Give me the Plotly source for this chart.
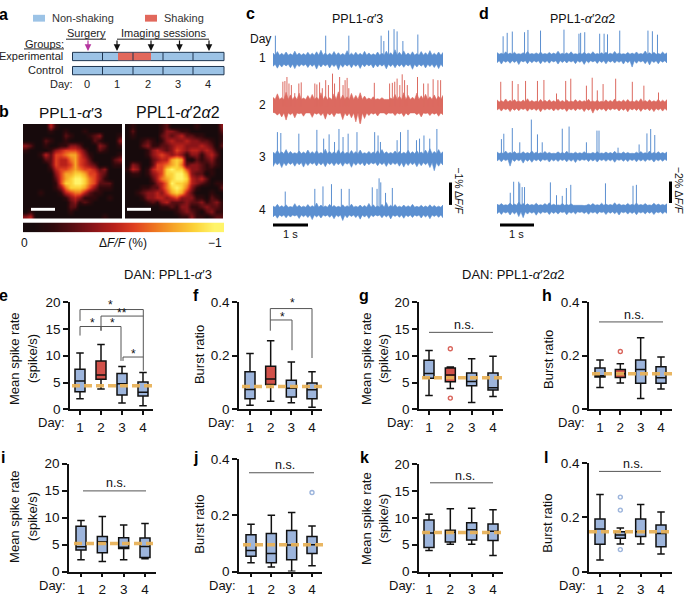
import plotly.graph_objects as go

W, H = 685, 600
FONT = "Liberation Sans"
BLUE_FILL, RED_FILL = "#9db5dc", "#d2514a"
TR_BLUE, TR_RED = "#5b8fd0", "#dc6a60"
ORANGE = "rgba(232,178,90,0.95)"

DAYS = [1, 2, 3, 4]

# ---------- box panels: [upper whisker, q3, median, q1, lower whisker] per day
E = [[10.5, 7.5, 5.3, 3.3, 2.0], [12.1, 9.0, 6.4, 5.6, 3.8], [8.0, 6.7, 4.8, 2.7, 1.2], [6.9, 5.1, 3.2, 2.5, 0.7]]
F = [[.208, .14, .074, .04, .015], [.256, .161, .113, .093, .03], [.177, .109, .079, .046, .025], [.14, .098, .073, .04, .008]]
G = [[11.0, 9.15, 6.7, 5.8, 2.6], [7.9, 7.7, 6.4, 5.15, 3.9], [9.45, 6.8, 5.2, 4.4, 1.3], [9.9, 6.8, 4.05, 3.6, 2.4]]
Hh = [[.184, .154, .125, .121, .082], [.17, .149, .133, .119, .098], [.267, .184, .149, .097, .041], [.195, .159, .118, .097, .076]]
I = [[9.46, 8.37, 4.58, 3.98, 2.17], [10.2, 6.5, 5.5, 3.5, 1.87], [8.6, 6.27, 4.5, 4.28, 2.17], [8.9, 6.2, 4.64, 2.6, 2.35]]
J = [[.168, .131, .075, .054, .031], [.2, .135, .064, .031, .016], [.21, .146, .094, .042, .001], [.162, .125, .095, .064, .021]]
K = [[10.7, 9.6, 7.2, 4.5, 3.9], [11.7, 7.7, 7.3, 5.5, 5.1], [11.8, 9.1, 7.8, 5.9, 5.1], [11.5, 8.85, 7.5, 5.8, 3.0]]
L = [[.285, .194, .157, .101, .043], [.161, .147, .135, .123, .102], [.248, .194, .147, .129, .102], [.22, .172, .141, .092, .065]]
MEANS = dict(e=4.4, f=.085, g=5.9, h=.133, i=5.2, j=.095, k=7.3, l=.147)
OUT_G = ([2, 2], [11.3, 2.1])
OUT_H = ([2], [.216])
OUT_J = ([4], [.281])
OUT_L = ([2, 2, 2], [.275, .227, .081])
RATE_TICKS = [0, 5, 10, 15, 20]
BURST_TICKS = [0, 0.2, 0.4]
BURST_LABELS = ["0", "0.2", "0.4"]

# ---------- fluorescence traces: spike time (s), spike height (%), noise envelopes and core half-width (%)
C1_T = [.07, 1.55, 2.23, 3.18, 3.26, 3.40, 3.56, 3.65, 3.82, 4.26]
C1_H = [1.07, 1.07, 1.07, 1.07, .83, 1.30, 1.36, 1.26, .83, 1.12]
C2_T = [.29, .35, .41, .47, .54, .64, .76, .83, 1.23, 1.29, 1.37, 1.45, 1.55, 1.63, 1.75, 1.81, 1.96, 2.06, 2.12, 2.18, 2.23, 2.98, 3.43, 3.51, 3.58, 3.65, 3.73, 3.80, 3.87, 3.95, 4.25, 4.43, 4.56, 4.71, 4.85, 4.93]
C2_H = [1.09, 1.12, 1.30, 1.01, .94, .58, 1.01, 1.06, 1.01, .97, 1.06, .80, 1.16, .94, 1.45, 1.01, 1.30, .94, 1.16, 1.26, .80, 1.04, 1.01, 1.04, 1.09, 1.23, .94, 1.42, 1.16, .94, 1.30, 1.01, 1.01, 1.20, 1.16, 1.16]
C3_T = [.13, .23, .76, 1.29, 1.49, 1.65, 1.81, 1.94, 2.06, 2.21, 2.47, 2.99, 3.09, 3.16, 3.65, 3.75, 3.97, 4.22, 4.31, 4.44, 4.61, 4.82]
C3_H = [1.16, 1.12, 1.09, 1.26, .87, 1.06, .72, 1.30, .94, 1.09, 1.16, 1.16, 1.01, .72, .80, 1.16, 1.26, .80, .87, 1.01, .87, 1.30]
C4_T = [.36, 1.23, 1.47, 1.72, 2.01, 2.24, 2.92, 3.06, 3.12, 3.17, 3.31, 3.51]
C4_H = [.87, .99, 1.10, 1.20, .99, .99, 1.06, .99, 1.46, 1.28, .81, 1.03]
D1_T = [.18, .30, .45, .81, .91, 1.28, 1.97, 2.41, 2.46, 2.58, 3.02, 3.15, 3.25, 3.61, 4.44, 4.57, 4.72]
D1_H = [1.97, 2.29, 2.41, 2.35, 2.56, 2.50, 2.59, 2.21, 2.29, 2.35, 2.21, 2.21, 2.15, 2.50, 2.50, 2.44, 2.12]
D2_T = [.11, .45, .62, .84, 1.19, 1.38, 1.75, 2.02, 2.17, 2.63, 2.80, 2.95, 3.12, 3.49, 3.98, 4.32, 4.75]
D2_H = [2.18, 2.26, 1.97, 2.26, 2.26, 2.35, 1.09, 2.26, 2.47, 1.82, 2.56, 1.38, 1.97, 2.47, 2.18, 1.82, 1.18]
D3_T = [.13, .20, .45, .67, 1.01, 1.19, 1.33, 1.92, 2.12, 2.63, 2.94, 3.00, 3.56, 4.18, 4.41, 4.52, 4.64]
D3_H = [1.62, 2.12, 2.65, 1.32, 3.44, 2.06, 1.32, 2.59, 2.79, 1.32, 2.41, 2.41, .82, 1.12, 2.15, 2.56, 2.0]
D4_T = [.39, .49, .64, .67, .74, .81, 1.57, 1.75, 1.92, 2.04, 2.17, 3.19, 4.0, 4.10]
D4_H = [1.47, 2.50, 2.50, 2.35, 2.0, 2.0, 2.44, 1.24, 1.18, 1.91, 2.21, 2.35, 2.12, 2.21]

C1_U = [.30,.36,.28,.34,.26,.38,.30,.27,.33,.29,.35,.42,.30,.28,.36,.31,.27,.40,.29,.33,.28,.37,.30,.26,.34,.29,.38,.31,.44,.33,.39,.30,.35,.27,.36,.31,.40,.29,.34,.32]
C1_D = [-.30,-.38,-.33,-.28,-.36,-.40,-.31,-.27,-.35,-.30,-.42,-.33,-.28,-.37,-.31,-.45,-.34,-.29,-.36,-.30,-.39,-.32,-.28,-.37,-.33,-.29,-.41,-.31,-.36,-.30,-.34,-.28,-.43,-.33,-.29,-.37,-.31,-.35,-.40,-.32]
C2_U = [.40,.55,.38,.62,.50,.44,.58,.36,.47,.52,.40,.60,.46,.38,.55,.64,.50,.42,.57,.48,.60,.45,.36,.42,.33,.38,.30,.36,.52,.44,.60,.48,.40,.58,.46,.53,.42,.50,.44,.48]
C2_D = [-.28,-.40,-.48,-.62,-.38,-.52,-.34,-.45,-.30,-.50,-.36,-.42,-.58,-.40,-.47,-.33,-.60,-.44,-.52,-.70,-.86,-.55,-.42,-.36,-.44,-.30,-.38,-.32,-.42,-.35,-.46,-.40,-.30,-.38,-.48,-.33,-.42,-.36,-.45,-.38]
C3_U = [.26,.34,.28,.38,.30,.24,.32,.27,.36,.29,.33,.25,.40,.30,.28,.37,.31,.26,.34,.29,.36,.24,.30,.27,.33,.38,.28,.25,.32,.30,.26,.35,.29,.33,.27,.36,.42,.30,.38,.28]
C3_D = [-.38,-.30,-.42,-.34,-.28,-.36,-.30,-.40,-.33,-.27,-.35,-.31,-.38,-.28,-.34,-.30,-.36,-.27,-.41,-.32,-.29,-.35,-.30,-.26,-.34,-.29,-.37,-.31,-.28,-.36,-.40,-.33,-.30,-.38,-.34,-.29,-.42,-.56,-.36,-.31]
C4_U = [.22,.30,.24,.28,.20,.33,.26,.22,.29,.24,.36,.27,.23,.30,.25,.21,.28,.24,.31,.22,.27,.25,.34,.28,.23,.30,.38,.26,.29,.22,.27,.24,.30,.21,.26,.23,.28,.25,.22,.27]
C4_D = [-.26,-.32,-.24,-.30,-.27,-.22,-.33,-.25,-.29,-.38,-.26,-.31,-.23,-.28,-.34,-.25,-.42,-.30,-.24,-.29,-.36,-.27,-.33,-.25,-.22,-.30,-.26,-.35,-.24,-.28,-.32,-.25,-.29,-.23,-.31,-.26,-.34,-.24,-.28,-.30]
D1_U = [.45,.38,.52,.40,.48,.35,.44,.55,.37,.42,.50,.36,.46,.40,.58,.38,.43,.52,.35,.41,.47,.39,.53,.36,.44,.49,.38,.56,.42,.35,.46,.40,.51,.37,.60,.43,.48,.36,.50,.42]
D1_D = [-.50,-.62,-.45,-.55,-.48,-.66,-.42,-.58,-.50,-.44,-.60,-.47,-.54,-.42,-.62,-.48,-.52,-.43,-.58,-.46,-.65,-.50,-.42,-.56,-.48,-.60,-.44,-.53,-.46,-.62,-.50,-.90,-.55,-.43,-.58,-.70,-.48,-.60,-.45,-.52]
D2_U = [.50,.42,.58,.45,.52,.40,.48,.60,.44,.38,.54,.46,.50,.41,.56,.43,.49,.38,.52,.45,.42,.55,.40,.47,.36,.50,.44,.58,.41,.48,.53,.39,.46,.60,.43,.50,.42,.55,.47,.52]
D2_D = [-.45,-.55,-.42,-.60,-.48,-.52,-.40,-.56,-.44,-.50,-.62,-.46,-.42,-.54,-.48,-.40,-.58,-.45,-.52,-.41,-.60,-.47,-.74,-.50,-.43,-.56,-.46,-.40,-.54,-.48,-.62,-.44,-.50,-.58,-.42,-.52,-.60,-.46,-.55,-.48]
D3_U = [.42,.35,.50,.38,.46,.33,.44,.36,.52,.40,.34,.47,.38,.30,.43,.36,.49,.32,.40,.35,.45,.30,.38,.44,.33,.41,.36,.48,.32,.42,.37,.30,.40,.46,.35,.50,.38,.44,.36,.42]
D3_D = [-.42,-.50,-.38,-.90,-.46,-.40,-.62,-.44,-.54,-.40,-.48,-.36,-.52,-.42,-.46,-.38,-.50,-.44,-.56,-.40,-.36,-.48,-.42,-.52,-.38,-.45,-.40,-.54,-.36,-.44,-.48,-.38,-.50,-.42,-.46,-.36,-.52,-.40,-.44,-.38]
D4_U = [.40,.46,.35,.52,.42,.60,.48,.44,.38,.50,.36,.46,.54,.40,.34,.48,.38,.44,.30,.36,.28,.40,.46,.36,.50,.42,.38,.54,.44,.36,.48,.40,.52,.38,.46,.34,.50,.42,.38,.44]
D4_D = [-.48,-.55,-.42,-.60,-.50,-.75,-.85,-.52,-.44,-.62,-.48,-.40,-.56,-.46,-.52,-.38,-.58,-.44,-.50,-.36,-.46,-.54,-.42,-.50,-.38,-.56,-.44,-.48,-.60,-.40,-.52,-.46,-.58,-.42,-.50,-.44,-.56,-.40,-.48,-.44]
CORE_C = [.2, .3, .2, .17]
CORE_D = [.3, .3, .27, .3]

# ---------- images of panel b (0-9 intensity)
IMG_A = [
 [0,0,0,0,0,4,1,0,0,0,0,0,0,0,0,0,0,0,0,0],
 [0,0,0,0,0,1,0,0,1,0,0,0,1,0,0,0,0,0,0,0],
 [0,0,0,0,0,0,0,0,2,1,0,0,0,1,2,3,0,0,0,1],
 [0,0,0,0,2,1,0,0,1,0,0,0,0,0,2,1,0,0,0,3],
 [3,2,0,0,1,0,0,1,1,3,3,2,0,0,0,3,2,0,0,1],
 [1,0,0,0,0,1,3,4,5,5,5,4,2,0,0,2,1,0,0,0],
 [0,0,0,1,4,2,5,5,6,7,7,5,3,1,0,0,0,0,0,1],
 [0,0,0,0,2,2,5,4,4,6,7,5,4,2,0,0,0,0,2,3],
 [0,0,0,0,0,2,5,4,4,5,7,5,4,3,2,0,0,0,1,1],
 [0,0,0,0,0,1,4,5,5,6,7,6,5,5,4,2,3,0,0,0],
 [0,0,0,0,0,0,3,5,7,7,8,8,7,5,5,3,2,0,0,0],
 [0,0,0,0,0,0,2,5,7,8,9,9,8,6,5,3,1,0,0,0],
 [0,0,0,0,0,0,1,5,8,8,9,9,8,6,5,2,2,2,0,0],
 [0,0,0,0,0,0,1,3,6,8,8,8,7,5,3,1,1,1,0,0],
 [0,0,0,1,0,0,0,1,4,5,6,6,4,2,1,1,0,0,0,0],
 [0,0,0,0,0,0,0,0,1,3,4,3,1,1,1,0,0,1,0,0],
 [0,0,0,0,0,0,0,0,0,2,3,1,2,1,0,0,0,0,0,0],
 [0,0,0,0,0,0,0,0,0,2,2,0,0,0,0,0,0,0,0,0],
 [0,1,0,0,0,0,0,0,0,1,0,0,0,0,0,0,0,0,0,0],
 [3,4,0,0,0,0,0,0,0,0,0,0,0,0,0,0,1,0,0,0]]
IMG_B = [
 [0,1,0,0,0,0,0,1,2,0,0,0,0,0,1,0,0,0,0,3],
 [0,2,0,0,0,0,0,1,3,3,2,1,1,0,0,0,0,0,0,2],
 [0,1,0,0,0,0,0,2,3,2,3,4,2,2,1,1,0,0,0,1],
 [0,0,0,1,2,1,0,1,3,4,3,3,4,3,3,2,2,1,0,1],
 [0,0,0,2,3,1,1,2,2,3,4,4,3,3,3,4,3,2,0,2],
 [0,0,0,0,1,3,4,3,2,3,5,4,3,4,4,3,4,3,1,0],
 [0,0,0,0,1,3,4,5,4,3,4,3,1,3,3,1,3,4,2,0],
 [0,0,0,0,0,2,3,4,4,7,8,7,1,0,2,1,2,3,1,0],
 [0,3,2,0,0,2,5,5,6,7,8,6,2,3,3,2,1,2,1,0],
 [1,4,3,0,1,4,5,5,8,9,8,8,5,3,3,2,1,1,0,0],
 [0,1,1,0,1,3,4,5,8,8,9,9,7,3,2,2,0,1,0,0],
 [0,0,0,0,0,2,4,6,7,8,9,9,8,4,3,4,2,0,0,0],
 [0,0,0,0,0,1,3,4,6,9,8,8,7,4,3,2,1,0,1,1],
 [0,0,0,1,1,2,2,4,6,8,9,8,6,3,1,0,0,0,0,2],
 [0,0,1,2,3,3,4,3,5,7,8,7,4,2,0,0,0,1,0,0],
 [0,0,0,1,3,3,4,4,3,4,5,3,3,3,1,1,0,2,1,0],
 [0,0,0,0,1,2,1,3,4,2,2,2,3,2,2,3,1,2,3,1],
 [0,0,0,0,0,0,0,1,1,2,1,3,3,1,1,2,3,2,2,1],
 [0,0,0,0,0,0,0,0,0,0,1,2,3,2,1,0,2,3,1,1],
 [0,0,0,0,0,0,0,0,0,0,0,1,1,3,1,1,0,1,2,2]]
CBAR = [0,1,2,3,4,5,6,7,8,9]
HOT = [[0, "#170a0c"], [1/9, "#30090c"], [2/9, "#5a0e12"], [3/9, "#8a1418"], [4/9, "#b8201a"], [5/9, "#e04020"],
       [6/9, "#ee7420"], [7/9, "#f6a628"], [8/9, "#fcd238"], [1, "#fff46a"]]

def px(x): return x / W
def py(y): return 1 - y / H

fig = go.Figure()
layout = {}
shapes, annos = [], []
n = 0

def new_axes(x0, x1, ytop, ybot, xa=None, ya=None):
    global n
    n += 1
    base = dict(showgrid=False, zeroline=False)
    layout[f"xaxis{n}"] = {**base, "domain": [px(x0), px(x1)], "anchor": f"y{n}", **(xa or {})}
    layout[f"yaxis{n}"] = {**base, "domain": [py(ybot), py(ytop)], "anchor": f"x{n}", **(ya or {})}
    return f"x{n}", f"y{n}"

def txt(x, y, s, size=11, anchor="center", angle=0, color="#111", bold=False):
    annos.append(dict(x=px(x), y=py(y), xref="paper", yref="paper", text=f"<b>{s}</b>" if bold else s,
                      showarrow=False, xanchor=anchor, yanchor="middle", textangle=angle,
                      font=dict(size=size, color=color, family=FONT)))

def seg(x0, y0, x1, y1, color="#222", w=1.0):
    shapes.append(dict(type="line", xref="paper", yref="paper", x0=px(x0), x1=px(x1), y0=py(y0), y1=py(y1),
                       line=dict(color=color, width=w)))

def rect(x0, y0, x1, y1, fill, line=None, w=1.0):
    shapes.append(dict(type="rect", xref="paper", yref="paper", x0=px(x0), x1=px(x1), y0=py(y0), y1=py(y1),
                       fillcolor=fill, line=dict(color=line or fill, width=w if line else 0)))

def arrow(x, y0, y1, color="#111"):
    annos.append(dict(x=px(x), y=py(y1), xref="paper", yref="paper", ax=0, ay=y0 - y1, axref="pixel", ayref="pixel",
                      text="", showarrow=True, arrowhead=2, arrowsize=1.1, arrowwidth=1.2, arrowcolor=color))

# ---------- panel letters
for s, x, y in [("a",4,8),("b",4,107),("c",250,7),("d",484,7),("e",4,296),("f",196,296),("g",364,296),("h",547,296),
                ("i",3,462),("j",195,462),("k",364,462),("l",546,462)]:
    txt(x, y, s, size=16, bold=True, color="#000")

# ---------- panel a
rect(33, 8, 45, 15, "#9cc3e6")
txt(50, 11, "Non-shaking", anchor="left", color="#333")
rect(145, 8, 157, 15, "#e2685c")
txt(162, 11, "Shaking", anchor="left", color="#333")
txt(86, 27, "Surgery", color="#222")
seg(66, 33, 106, 33)
txt(44, 38, "Groups:", color="#222")
seg(24, 43, 64, 43)
txt(163, 27, "Imaging sessions", color="#222")
seg(117, 33, 209, 33)
for x in [117, 151, 179.5, 209]:
    arrow(x, 33, 45)
arrow(88, 33, 45, "#b5359f")
txt(65, 50, "Experimental", anchor="right", color="#222")
txt(65, 65, "Control", anchor="right", color="#222")
txt(75, 79, "Day:", anchor="right", color="#222")
rect(72.5, 46.5, 224, 55, "#9cc3e6", "#1e3550", 1)
rect(118, 47, 151, 54.5, "#e2685c")
rect(72.5, 61, 224, 69.5, "#9cc3e6", "#1e3550", 1)
for x in [102.5, 133, 163, 193]:
    seg(x, 46.5, x, 55, "#1e3550")
    seg(x, 61, x, 69.5, "#1e3550")
for x, s in [(87,"0"),(117,"1"),(148,"2"),(178,"3"),(208,"4")]:
    txt(x, 79, s, color="#222")

# ---------- panel b
hide = dict(visible=False)
for x0, x1, img in [(23, 122, IMG_A), (125, 223.5, IMG_B)]:
    xa, ya = new_axes(x0, x1, 120, 217, hide, dict(visible=False, autorange="reversed"))
    fig.add_trace(go.Heatmap(z=img, xaxis=xa, yaxis=ya, colorscale=HOT, zmin=0, zmax=9, zsmooth="best", showscale=False))
txt(70, 108, "PPL1-<i>α</i>′3", size=15.5)
txt(178, 108, "PPL1-<i>α</i>′2<i>α</i>2", size=16)
rect(31, 206, 55, 209, "white")
rect(127, 206, 151, 209, "white")
xa, ya = new_axes(23, 224, 221, 231, hide, hide)
fig.add_trace(go.Heatmap(z=[CBAR], xaxis=xa, yaxis=ya, colorscale=HOT, zmin=0, zmax=9, zsmooth="best", showscale=False))
txt(24, 242, "0", size=12)
txt(123, 242, "Δ<i>F/F</i> (%)", size=12)
txt(224, 242, "−1", size=12, anchor="right")

# ---------- panels c, d
def toothed(env, core, sign):
    out = []
    for i, v in enumerate(env):
        out.append(v)
        if i < len(env) - 1:
            out.append(sign * core)
    return out

def trace(x0, x1, base, scale, T, Hs, U, D, core, color):
    xa, ya = new_axes(x0, x1, base - 46, base + 18, dict(visible=False, range=[0, 5]),
                      dict(visible=False, range=[-18 / scale, 46 / scale]))
    up, lo = toothed(U, core, 1), toothed(D, core, -1)
    ts = [5.0 * i / (len(up) - 1) for i in range(len(up))]
    fig.add_trace(go.Scatter(x=ts + ts[::-1], y=up + lo[::-1], mode="lines", fill="toself", fillcolor=color,
                             line=dict(color=color, width=0.6), xaxis=xa, yaxis=ya, hoverinfo="skip"))
    sx, sy = [], []
    for t, h in zip(T, Hs):
        sx += [t, t, None]
        sy += [0, h, None]
    fig.add_trace(go.Scatter(x=sx, y=sy, mode="lines", line=dict(color=color, width=1), xaxis=xa, yaxis=ya))

for base, T, Hs, U, D, core, c in [(54, C1_T, C1_H, C1_U, C1_D, CORE_C[0], TR_BLUE), (101.7, C2_T, C2_H, C2_U, C2_D, CORE_C[1], TR_RED),
                             (155, C3_T, C3_H, C3_U, C3_D, CORE_C[2], TR_BLUE), (209.3, C4_T, C4_H, C4_U, C4_D, CORE_C[3], TR_BLUE)]:
    trace(273, 443, base, 23, T, Hs, U, D, core, c)
for base, T, Hs, U, D, core, c in [(51.7, D1_T, D1_H, D1_U, D1_D, CORE_D[0], TR_BLUE), (100.7, D2_T, D2_H, D2_U, D2_D, CORE_D[1], TR_RED),
                             (153.3, D3_T, D3_H, D3_U, D3_D, CORE_D[2], TR_BLUE), (206.7, D4_T, D4_H, D4_U, D4_D, CORE_D[3], TR_BLUE)]:
    trace(497, 667, base, 11, T, Hs, U, D, core, c)

txt(357, 12, "PPL1-<i>α</i>′3", size=12.5)
txt(582, 12, "PPL1-<i>α</i>′2<i>α</i>2", size=12.5)
txt(260, 33, "Day", size=12)
for y, s in [(52,"1"),(101,"2"),(154,"3"),(208,"4")]:
    txt(262, y, s, size=12)
rect(273, 222, 308, 225, "#000")
txt(290, 233, "1 s")
rect(500, 222, 534, 225, "#000")
txt(516, 233, "1 s")
rect(449, 180, 452, 203, "#000")
txt(459, 188, "−1% Δ<i>F/F</i>", size=10.5, angle=90)
rect(669, 179, 672, 201, "#000")
txt(678.5, 188, "−2% Δ<i>F/F</i>", size=10.5, angle=90)
txt(168, 274, "DAN: PPL1-<i>α</i>′3", size=13)
txt(513, 274, "DAN: PPL1-<i>α</i>′2<i>α</i>2", size=13)

# ---------- box panels
def panel(key, data, xl, xr, d1, d4, ytop, ybot, ymax, ticks, labels, day_fill, mean_x, out=None, out_color=None):
    per = (d4 - d1) / 3
    ax_font = dict(size=13.5, color="#111", family=FONT)
    xa, ya = new_axes(xl, xr, ytop, ybot,
        dict(range=[1 - (d1 - xl) / per, 4 + (xr - d4) / per], tickvals=DAYS, ticktext=[str(d) for d in DAYS], showline=True,
             linecolor="#111", linewidth=1.5, ticks="outside", ticklen=4, tickwidth=1.5, tickcolor="#111", tickfont=ax_font,
             ticklabelstandoff=1),
        dict(range=[0, ymax], tickvals=ticks, ticktext=labels, showline=True, linecolor="#111", linewidth=1.5,
             ticks="outside", ticklen=5, tickwidth=1.5, tickcolor="#111", tickfont=ax_font))
    for day, v in zip(DAYS, data):
        fig.add_trace(go.Box(x=[day], upperfence=[v[0]], q3=[v[1]], median=[v[2]], q1=[v[3]], lowerfence=[v[4]],
                             width=10 / per, whiskerwidth=0.75, boxpoints=False, xaxis=xa, yaxis=ya,
                             fillcolor=day_fill.get(day, BLUE_FILL), line=dict(color="#111", width=1.5)))
    if out:
        fig.add_trace(go.Scatter(x=out[0], y=out[1], mode="markers", xaxis=xa, yaxis=ya,
                                 marker=dict(size=4, color="rgba(255,255,255,0.3)", line=dict(color=out_color, width=1.4))))
    shapes.append(dict(type="line", xref="paper", yref=ya, x0=px(mean_x[0]), x1=px(mean_x[1]), y0=MEANS[key], y1=MEANS[key],
                       line=dict(color=ORANGE, width=3.5, dash="8px,4px")))

red2 = {2: RED_FILL}
panel("e", E, 70, 153, 80, 143, 302.7, 412.7, 20, RATE_TICKS, [str(t) for t in RATE_TICKS], red2, (72, 152))
panel("f", F, 239, 322, 250, 312, 302.7, 412.7, .4, BURST_TICKS, BURST_LABELS, red2, (242, 323))
panel("g", G, 419, 503, 429, 493, 302.7, 412.7, 20, RATE_TICKS, [str(t) for t in RATE_TICKS], red2, (422, 502), OUT_G, "#d9655c")
panel("h", Hh, 589, 672, 600, 661, 302.7, 412.7, .4, BURST_TICKS, BURST_LABELS, red2, (592, 672), OUT_H, "#d9655c")
panel("i", I, 69, 156, 81, 145, 468.3, 579, 20, RATE_TICKS, [str(t) for t in RATE_TICKS], {}, (74, 153))
panel("j", J, 239, 322, 251, 312, 463.7, 579, .4, BURST_TICKS, BURST_LABELS, {}, (243, 323), OUT_J, "#9db5dc")
panel("k", K, 419, 503, 429, 493, 469, 579, 20, RATE_TICKS, [str(t) for t in RATE_TICKS], {}, (422, 501))
panel("l", L, 589, 672, 600, 661, 468, 579, .4, BURST_TICKS, BURST_LABELS, {}, (589, 673), OUT_L, "#9db5dc")

for x, y in [(67, 426.5), (237, 426.5), (416, 426.5), (587, 426.5), (68, 593), (238, 593), (418, 593), (588, 593)]:
    txt(x, y, "Day:", size=13, anchor="right")

for x1, x2, y in [(15, 33, 361), (367, 384, 361), (15, 33, 523), (367, 384, 525)]:
    txt(x1, y, "Mean spike rate", size=13, angle=-90)
    txt(x2, y, "(spike/s)", size=13, angle=-90)
for x, y in [(199, 357), (549, 362), (200, 530), (548, 530)]:
    txt(x, y, "Burst ratio", size=13, angle=-90)

# brackets
GR = "#555555"
for a in [(80,322,80,310.3),(80,310.3,143.3,310.3),(143.3,310.3,143.3,373),
          (101,332,101,317),(101,317,143.3,317),
          (80,337,80,327.7),(80,327.7,121,327.7),(121,327.7,121,363),(101,327.7,101,332),
          (123,363,123,359),(123,359,143.3,359),
          (270.3,332,270.3,309.3),(270.3,309.3,312,309.3),(312,309.3,312,360),
          (270.3,321,292,321),(292,321,292,352)]:
    seg(*a, color=GR)
for x, y, s in [(110,306,"*"),(122,314,"**"),(92,324,"*"),(112,324,"*"),(133,356,"*"),(292,304,"*"),(282,318,"*")]:
    txt(x, y, s, size=12)
for x0, x1, y, tx, ty in [(429,493,333.7,464,326),(599,663,323,634,316),(83,146,496.3,116,488),(249,314,477.7,285,470),
                          (430,493,488,465,481),(599,661,476.3,633,469)]:
    seg(x0, y, x1, y, color=GR)
    txt(tx, ty, "n.s.", size=12.5)

fig.update_layout(width=W, height=H, margin=dict(l=0, r=0, t=0, b=0), paper_bgcolor="white", plot_bgcolor="rgba(0,0,0,0)",
                  showlegend=False, shapes=shapes, annotations=annos, font=dict(family=FONT), boxmode="overlay", **layout)
fig.write_html("out.html", config={"displayModeBar": False}, post_script="document.body.style.margin='0';")
